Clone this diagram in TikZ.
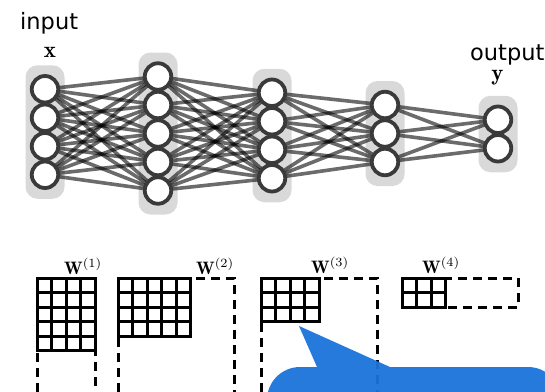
\documentclass[tikz,border=0pt]{standalone}
\usepackage{fontspec}
\usepackage{graphicx}
\newfontfamily\labelfont{DejaVu Sans}
\definecolor{calloutblue}{RGB}{26,115,217}
\definecolor{layerbg}{RGB}{217,217,217}
\definecolor{neurondraw}{RGB}{58,58,58}
\pgfdeclarelayer{bg}
\pgfdeclarelayer{edges}
\pgfsetlayers{bg,edges,main}
\tikzset{
  neuron/.style={circle, draw=neurondraw, fill=white, line width=3.8pt, minimum size=26.5pt, inner sep=0pt},
  synapse/.style={draw=black, opacity=0.58, line width=3.6pt},
  layerbox/.style={fill=layerbg, rounded corners=12pt},
  gridline/.style={line width=3pt, line cap=rect},
  dashbox/.style={line width=3pt, dash pattern=on 9pt off 6pt},
  txt/.style={font=\labelfont\fontsize{22.5}{22.5}\selectfont, inner sep=0pt},
  vec/.style={inner sep=0pt},
  wlab/.style={inner sep=0pt, anchor=base west},
  calloutshape/.style={fill=calloutblue, opacity=0.95}
}
\begin{document}
\begin{tikzpicture}[x=1pt,y=-1pt]
\clip (0,0) rectangle (545,391);
% neurons and layer backgrounds
\foreach \L/\X/\C/\N in {1/45/132/4, 2/158/133.5/5, 3/272/135.5/4, 4/385/133.5/3, 5/498/134/2} {
  \foreach \k in {1,...,\N} {
    \node[neuron] (n\L-\k) at (\X, {\C + (\k - (\N+1)/2)*28.5}) {};
  }
  \begin{pgfonlayer}{bg}
    \fill[layerbox] ({\X-19.5}, {\C - (\N-1)/2*28.5 - 24}) rectangle ({\X+19.5}, {\C + (\N-1)/2*28.5 + 24});
  \end{pgfonlayer}
}
% connections
\begin{pgfonlayer}{edges}
\foreach \a/\na/\b/\nb in {1/4/2/5, 2/5/3/4, 3/4/4/3, 4/3/5/2} {
  \foreach \i in {1,...,\na} {
    \foreach \j in {1,...,\nb} {
      \draw[synapse] (n\a-\i.center) -- (n\b-\j.center);
    }
  }
}
\end{pgfonlayer}
% labels
\node[txt, anchor=base west] (inlab) at (20,29) {input};
\node[vec, anchor=base] (xlab) at (50,57) {\scalebox{2.3}{$\mathbf{x}$}};
\node[txt, anchor=base west] (outlab) at (470,60) {output};
\node[vec, anchor=base] (ylab) at (497.5,80) {\scalebox{2.3}{$\mathbf{y}$}};
% weight matrices
\foreach \m/\ox/\c/\r/\dc/\dr in {1/37/4/5/4/10, 2/118/5/4/8/10, 3/261/4/3/8/10, 4/402/3/2/8/2} {
  \draw[dashbox] (\ox,278) rectangle ({\ox+\dc*14.5},{278+\dr*14.5});
  \foreach \i in {0,...,\c} {
    \draw[gridline] ({\ox+\i*14.5},278) -- ({\ox+\i*14.5},{278+\r*14.5});
  }
  \foreach \j in {0,...,\r} {
    \draw[gridline] (\ox,{278+\j*14.5}) -- ({\ox+\c*14.5},{278+\j*14.5});
  }
}
\node[wlab] (w1) at (64,274) {\scalebox{1.8}{$\mathbf{W}^{(1)}$}};
\node[wlab] (w2) at (196,274) {\scalebox{1.8}{$\mathbf{W}^{(2)}$}};
\node[wlab] (w3) at (311,273) {\scalebox{1.8}{$\mathbf{W}^{(3)}$}};
\node[wlab] (w4) at (422,273) {\scalebox{1.8}{$\mathbf{W}^{(4)}$}};
% callout
\fill[calloutshape] (299,326) -- (390,367) -- (528,367) arc[start angle=-90,end angle=0,radius=33] -- (561,440) -- (267,440) -- (267,400) arc[start angle=180,end angle=270,radius=33] -- (317,367) -- cycle;
\end{tikzpicture}
\end{document}
